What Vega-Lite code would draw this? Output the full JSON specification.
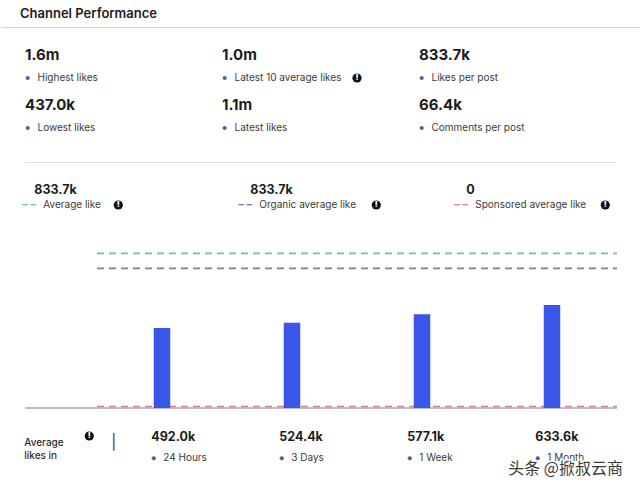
{
  "$schema": "https://vega.github.io/schema/vega-lite/v6.json",
  "background": "white",
  "padding": {"top": 8, "left": 0, "right": 0, "bottom": 0},
  "spacing": 0,
  "bounds": "flush",
  "config": {"view": {"stroke": null}, "font": "Inter", "text": {"font": "Inter"}},
  "resolve": {"scale": {"x": "independent", "y": "independent", "color": "shared"}},
  "datasets": {
    "kpis": [
      {"metric": "Highest likes", "value": "1.6m", "col": 0, "row": 0},
      {"metric": "Lowest likes", "value": "437.0k", "col": 0, "row": 1},
      {"metric": "Latest 10 average likes", "value": "1.0m", "col": 1, "row": 0},
      {"metric": "Latest likes", "value": "1.1m", "col": 1, "row": 1},
      {"metric": "Likes per post", "value": "833.7k", "col": 2, "row": 0},
      {"metric": "Comments per post", "value": "66.4k", "col": 2, "row": 1}
    ],
    "averages": [
      {"series": "Average like", "likes": 833700, "label": "833.7k"},
      {"series": "Organic average like", "likes": 833700, "label": "833.7k"},
      {"series": "Sponsored average like", "likes": 0, "label": "0"}
    ],
    "periods": [
      {"period": "24 Hours", "likes": 492000},
      {"period": "3 Days", "likes": 524400},
      {"period": "1 Week", "likes": 577100},
      {"period": "1 Month", "likes": 633600}
    ],
    "dividers": [
      {"divider": "header"}
    ]
  },
  "vconcat": [
    {
      "width": 640,
      "height": 136,
      "title": {"text": "Channel Performance", "anchor": "start", "frame": "group", "dx": 19, "offset": 6, "fontSize": 13, "fontWeight": 600, "color": "#1c1c1c", "font": "Inter"},
      "layer": [
        {
          "data": {"name": "dividers"},
          "mark": {"type": "rule", "color": "#d4d4d4", "strokeWidth": 1},
          "encoding": {
            "x": {"datum": -0.12183, "type": "quantitative", "scale": {"domain": [-0.12183, 3.1269], "nice": false, "zero": false}, "axis": null},
            "x2": {"datum": 3.1269},
            "y": {"datum": -0.55, "type": "quantitative", "scale": {"domain": [-0.56, 2.16], "reverse": true, "nice": false, "zero": false}, "axis": null}
          }
        },
        {
          "data": {"name": "dividers"},
          "mark": {"type": "rule", "color": "#dedede", "strokeWidth": 1},
          "encoding": {
            "x": {"datum": 0, "type": "quantitative", "axis": null},
            "x2": {"datum": 3},
            "y": {"datum": 2.15, "type": "quantitative", "axis": null}
          }
        },
        {
          "data": {"name": "kpis"},
          "mark": {"type": "text", "align": "left", "baseline": "middle", "fontSize": 15, "fontWeight": 700, "color": "#1c1c1c"},
          "encoding": {
            "x": {"field": "col", "type": "quantitative", "axis": null},
            "y": {"field": "row", "type": "quantitative", "axis": null},
            "text": {"field": "value"}
          }
        },
        {
          "data": {"name": "kpis"},
          "mark": {"type": "point", "filled": true, "size": 18, "color": "#5b5fa6", "opacity": 1, "xOffset": 2.7, "yOffset": 23},
          "encoding": {
            "x": {"field": "col", "type": "quantitative", "axis": null},
            "y": {"field": "row", "type": "quantitative", "axis": null}
          }
        },
        {
          "data": {"name": "kpis"},
          "mark": {"type": "text", "align": "left", "baseline": "middle", "fontSize": 10, "color": "#3b3b3b", "dx": 12.5, "dy": 23},
          "encoding": {
            "x": {"field": "col", "type": "quantitative", "axis": null},
            "y": {"field": "row", "type": "quantitative", "axis": null},
            "text": {"field": "metric"}
          }
        },
        {
          "data": {"name": "kpis"},
          "transform": [{"filter": "datum.metric === 'Latest 10 average likes'"}],
          "mark": {"type": "point", "filled": true, "size": 85, "color": "#111111", "opacity": 1, "xOffset": 135, "yOffset": 23},
          "encoding": {
            "x": {"field": "col", "type": "quantitative", "axis": null},
            "y": {"field": "row", "type": "quantitative", "axis": null}
          }
        },
        {
          "data": {"name": "kpis"},
          "transform": [{"filter": "datum.metric === 'Latest 10 average likes'"}],
          "mark": {"type": "text", "text": "!", "align": "center", "baseline": "middle", "fontSize": 8, "fontWeight": 900, "color": "white", "dx": 135, "dy": 23},
          "encoding": {
            "x": {"field": "col", "type": "quantitative", "axis": null},
            "y": {"field": "row", "type": "quantitative", "axis": null}
          }
        }
      ]
    },
    {
      "width": 640,
      "height": 76,
      "data": {"name": "averages"},
      "encoding": {
        "x": {"field": "series", "type": "nominal", "sort": null, "scale": {"type": "point", "domain": ["Average like", "Organic average like", "Sponsored average like"], "padding": 0.48148, "align": 0.1024}, "axis": null}
      },
      "layer": [
        {"mark": {"type": "text", "align": "left", "baseline": "middle", "fontSize": 12.5, "fontWeight": 700, "color": "#1c1c1c", "dx": 12, "dy": -11}, "encoding": {"text": {"field": "label"}}},
        {"mark": {"type": "text", "text": "– –", "align": "left", "baseline": "middle", "fontSize": 11, "fontWeight": 700, "dy": 4}, "encoding": {"color": {"field": "series", "type": "nominal", "scale": {"domain": ["Average like", "Organic average like", "Sponsored average like"], "range": ["#6cc69a", "#7b7ca8", "#e27d8f"]}, "legend": null}}},
        {"mark": {"type": "text", "align": "left", "baseline": "middle", "fontSize": 10, "color": "#3b3b3b", "dx": 21, "dy": 4}, "encoding": {"text": {"field": "series"}}},
        {"transform": [{"filter": "datum.series === 'Average like'"}], "mark": {"type": "point", "filled": true, "size": 85, "color": "#111111", "opacity": 1, "xOffset": 96, "yOffset": 4}},
        {"transform": [{"filter": "datum.series === 'Average like'"}], "mark": {"type": "text", "text": "!", "align": "center", "baseline": "middle", "fontSize": 8, "fontWeight": 900, "color": "white", "dx": 96, "dy": 4}},
        {"transform": [{"filter": "datum.series === 'Organic average like'"}], "mark": {"type": "point", "filled": true, "size": 85, "color": "#111111", "opacity": 1, "xOffset": 138, "yOffset": 4}},
        {"transform": [{"filter": "datum.series === 'Organic average like'"}], "mark": {"type": "text", "text": "!", "align": "center", "baseline": "middle", "fontSize": 8, "fontWeight": 900, "color": "white", "dx": 138, "dy": 4}},
        {"transform": [{"filter": "datum.series === 'Sponsored average like'"}], "mark": {"type": "point", "filled": true, "size": 85, "color": "#111111", "opacity": 1, "xOffset": 151, "yOffset": 4}},
        {"transform": [{"filter": "datum.series === 'Sponsored average like'"}], "mark": {"type": "text", "text": "!", "align": "center", "baseline": "middle", "fontSize": 8, "fontWeight": 900, "color": "white", "dx": 151, "dy": 4}}
      ]
    },
    {
      "width": 640,
      "height": 169,
      "layer": [
        {
          "data": {"name": "dividers"},
          "mark": {"type": "rule", "color": "#7f8190", "strokeWidth": 1.2, "xOffset": -72},
          "encoding": {
            "x": {"datum": "24 Hours", "type": "nominal", "bandPosition": 0, "scale": {"type": "band", "domain": ["24 Hours", "3 Days", "1 Week", "1 Month"], "paddingInner": 0, "paddingOuter": 0.4615, "align": 0.8}, "axis": null},
            "x2": {"datum": "1 Month", "bandPosition": 1},
            "y": {"datum": 0, "type": "quantitative", "scale": {"domain": [0, 1039350], "nice": false, "zero": true}, "axis": null}
          }
        },
        {
          "data": {"name": "averages"},
          "transform": [{"filter": "datum.series === 'Sponsored average like'"}],
          "mark": {"type": "rule", "strokeWidth": 1.6, "strokeDash": [7, 5], "yOffset": -1.5},
          "encoding": {
            "x": {"datum": "24 Hours", "type": "nominal", "bandPosition": 0, "axis": null},
            "x2": {"datum": "1 Month", "bandPosition": 1},
            "y": {"field": "likes", "type": "quantitative", "axis": null},
            "color": {"field": "series", "type": "nominal", "legend": null}
          }
        },
        {
          "data": {"name": "periods"},
          "mark": {"type": "bar", "width": 16.5, "color": "#3a56e8"},
          "encoding": {
            "x": {"field": "period", "type": "nominal", "sort": null, "axis": null},
            "y": {"field": "likes", "type": "quantitative", "axis": null}
          }
        },
        {
          "data": {"name": "averages"},
          "transform": [{"filter": "datum.series === 'Average like'"}],
          "mark": {"type": "rule", "strokeWidth": 1.8, "strokeDash": [7, 5], "yOffset": -19},
          "encoding": {
            "x": {"datum": "24 Hours", "type": "nominal", "bandPosition": 0, "axis": null},
            "x2": {"datum": "1 Month", "bandPosition": 1},
            "y": {"field": "likes", "type": "quantitative", "axis": null},
            "color": {"field": "series", "type": "nominal", "legend": null}
          }
        },
        {
          "data": {"name": "averages"},
          "transform": [{"filter": "datum.series === 'Organic average like'"}],
          "mark": {"type": "rule", "strokeWidth": 1.8, "strokeDash": [7, 5], "yOffset": -4},
          "encoding": {
            "x": {"datum": "24 Hours", "type": "nominal", "bandPosition": 0, "axis": null},
            "x2": {"datum": "1 Month", "bandPosition": 1},
            "y": {"field": "likes", "type": "quantitative", "axis": null},
            "color": {"field": "series", "type": "nominal", "legend": null}
          }
        }
      ]
    },
    {
      "width": 640,
      "height": 83,
      "layer": [
        {
          "data": {"name": "periods"},
          "mark": {"type": "text", "align": "left", "baseline": "middle", "fontSize": 12.5, "fontWeight": 700, "color": "#1c1c1c", "dy": -13},
          "encoding": {
            "x": {"field": "period", "type": "nominal", "sort": null, "scale": {"type": "point", "domain": ["24 Hours", "3 Days", "1 Week", "1 Month"], "padding": 1.0559, "align": 0.587}, "axis": null},
            "text": {"field": "likes", "type": "quantitative", "format": ".4s"}
          }
        },
        {
          "data": {"name": "periods"},
          "mark": {"type": "point", "filled": true, "size": 18, "color": "#5b5fa6", "opacity": 1, "xOffset": 2.5, "yOffset": 8.8},
          "encoding": {"x": {"field": "period", "type": "nominal", "sort": null, "axis": null}}
        },
        {
          "data": {"name": "periods"},
          "mark": {"type": "text", "align": "left", "baseline": "middle", "fontSize": 10, "color": "#3b3b3b", "dx": 12, "dy": 8.8},
          "encoding": {"x": {"field": "period", "type": "nominal", "sort": null, "axis": null}, "text": {"field": "period"}}
        },
        {
          "data": {"name": "dividers"},
          "mark": {"type": "text", "text": ["Average", "likes in"], "lineHeight": 13, "align": "left", "baseline": "middle", "fontSize": 10, "fontWeight": 500, "color": "#2e2e2e", "dx": -127, "dy": -7},
          "encoding": {"x": {"datum": "24 Hours", "type": "nominal", "axis": null}}
        },
        {
          "data": {"name": "dividers"},
          "mark": {"type": "point", "filled": true, "size": 85, "color": "#111111", "opacity": 1, "xOffset": -62, "yOffset": -13.5},
          "encoding": {"x": {"datum": "24 Hours", "type": "nominal", "axis": null}}
        },
        {
          "data": {"name": "dividers"},
          "mark": {"type": "text", "text": "!", "align": "center", "baseline": "middle", "fontSize": 8, "fontWeight": 900, "color": "white", "dx": -62, "dy": -13.5},
          "encoding": {"x": {"datum": "24 Hours", "type": "nominal", "axis": null}}
        },
        {
          "data": {"name": "dividers"},
          "mark": {"type": "text", "text": "│", "font": "DejaVu Sans", "align": "center", "baseline": "middle", "fontSize": 15, "color": "#3a3a3a", "dx": -37.5, "dy": -7.5},
          "encoding": {"x": {"datum": "24 Hours", "type": "nominal", "axis": null}}
        },
        {
          "data": {"values": [{"mark": "头条 @掀叔云商"}]},
          "mark": {"type": "text", "align": "left", "baseline": "middle", "font": "Noto Sans CJK SC", "fontSize": 16, "color": "white", "stroke": "white", "strokeWidth": 3, "dx": -27, "dy": 19.5},
          "encoding": {"x": {"datum": "1 Month", "type": "nominal", "axis": null}, "text": {"field": "mark"}}
        },
        {
          "data": {"values": [{"mark": "头条 @掀叔云商"}]},
          "mark": {"type": "text", "align": "left", "baseline": "middle", "font": "Noto Sans CJK SC", "fontSize": 16, "color": "#3a3a3a", "dx": -27, "dy": 19.5},
          "encoding": {"x": {"datum": "1 Month", "type": "nominal", "axis": null}, "text": {"field": "mark"}}
        }
      ]
    }
  ]
}
